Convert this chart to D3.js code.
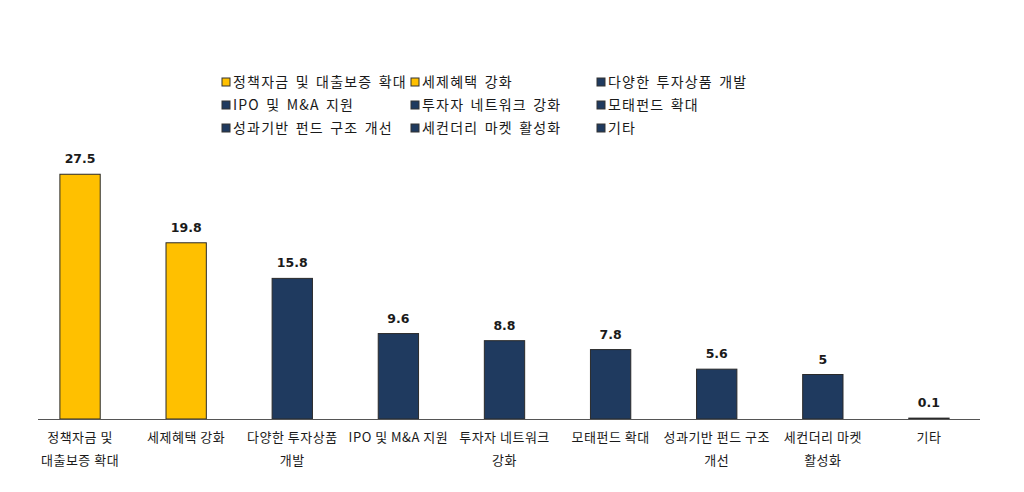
<!DOCTYPE html>
<html>
  <head>
    <meta charset="utf-8" />
    <title>Chart</title>
    <script src="https://d3js.org/d3.v7.min.js"></script>
    <style>
      body { margin: 0; background: #fff; }
      text { font-family: "Noto Sans CJK KR", sans-serif; fill: #1a1a1a; }
      .val { font-family: "DejaVu Sans", Verdana, sans-serif; font-weight: bold; font-size: 12.5px; }
    </style>
  </head>
  <body>
    <svg width="1024" height="492" id="chart"></svg>

    <script>
      // data
      var categories = ["정책자금 및 대출보증 확대", "세제혜택 강화", "다양한 투자상품 개발",
        "IPO 및 M&A 지원", "투자자 네트워크 강화", "모태펀드 확대",
        "성과기반 펀드 구조 개선", "세컨더리 마켓 활성화", "기타"];
      var values = [27.5, 19.8, 15.8, 9.6, 8.8, 7.8, 5.6, 5, 0.1];
      var highlight = [true, true, false, false, false, false, false, false, false];
      var labelLines = [["정책자금 및", "대출보증 확대"], ["세제혜택 강화"], ["다양한 투자상품", "개발"],
        ["IPO 및 M&A 지원"], ["투자자 네트워크", "강화"], ["모태펀드 확대"],
        ["성과기반 펀드 구조", "개선"], ["세컨더리 마켓", "활성화"], ["기타"]];

      var svg = d3.select("#chart");
      var baseY = 419;

      var x = d3.scaleBand().domain(categories).range([27, 982]).paddingInner(0.62).paddingOuter(0.31);
      var y = d3.scaleLinear().domain([0, 30]).range([baseY, baseY - 267]);
      var color = function(i) { return highlight[i] ? "#FFC000" : "#1F3A5F"; };

      // bars
      svg.selectAll("rect.bar")
        .data(values)
        .enter().append("rect")
        .attr("class", "bar")
        .attr("x", function(d, i) { return x(categories[i]); })
        .attr("y", function(d) { return y(d); })
        .attr("width", x.bandwidth())
        .attr("height", function(d) { return baseY - y(d); })
        .style("fill", function(d, i) { return color(i); })
        .style("stroke", "#2a2a2a")
        .style("stroke-width", 1);

      // value labels
      svg.selectAll("text.val")
        .data(values)
        .enter().append("text")
        .attr("class", "val")
        .attr("x", function(d, i) { return x(categories[i]) + x.bandwidth() / 2; })
        .attr("y", function(d) { return y(d) - 11; })
        .attr("text-anchor", "middle")
        .text(function(d) { return d; });

      // baseline
      svg.append("line")
        .attr("x1", 38).attr("x2", 980)
        .attr("y1", baseY + 0.5).attr("y2", baseY + 0.5)
        .style("stroke", "#555").style("stroke-width", 1.2);

      // category labels
      var lab = svg.selectAll("text.cat")
        .data(labelLines)
        .enter().append("text")
        .attr("class", "cat")
        .attr("text-anchor", "middle")
        .style("font-size", "13px")
        .style("letter-spacing", "0.5px")
        .attr("transform", function(d, i) {
          return "translate(" + (x(categories[i]) + x.bandwidth() / 2) + "," + (baseY + 23) + ")";
        });
      lab.selectAll("tspan")
        .data(function(d) { return d; })
        .enter().append("tspan")
        .attr("x", 0)
        .attr("dy", function(d, j) { return j === 0 ? 0 : 23; })
        .text(function(d) { return d; });

      // legend
      var legX = [222, 411, 597];
      var legY = [82, 105, 128];
      var leg = svg.selectAll("g.leg")
        .data(categories)
        .enter().append("g")
        .attr("class", "leg")
        .attr("transform", function(d, i) {
          return "translate(" + legX[i % 3] + "," + legY[Math.floor(i / 3)] + ")";
        });
      leg.append("rect")
        .attr("x", 0).attr("y", -4)
        .attr("width", 8).attr("height", 8)
        .style("fill", function(d, i) { return color(i); })
        .style("stroke", "#333").style("stroke-width", 1);
      leg.append("text")
        .attr("x", 11).attr("y", 5)
        .style("font-size", "14px")
        .style("letter-spacing", "1.2px")
        .style("word-spacing", "2px")
        .text(function(d) { return d; });
    </script>
  </body>
</html>
